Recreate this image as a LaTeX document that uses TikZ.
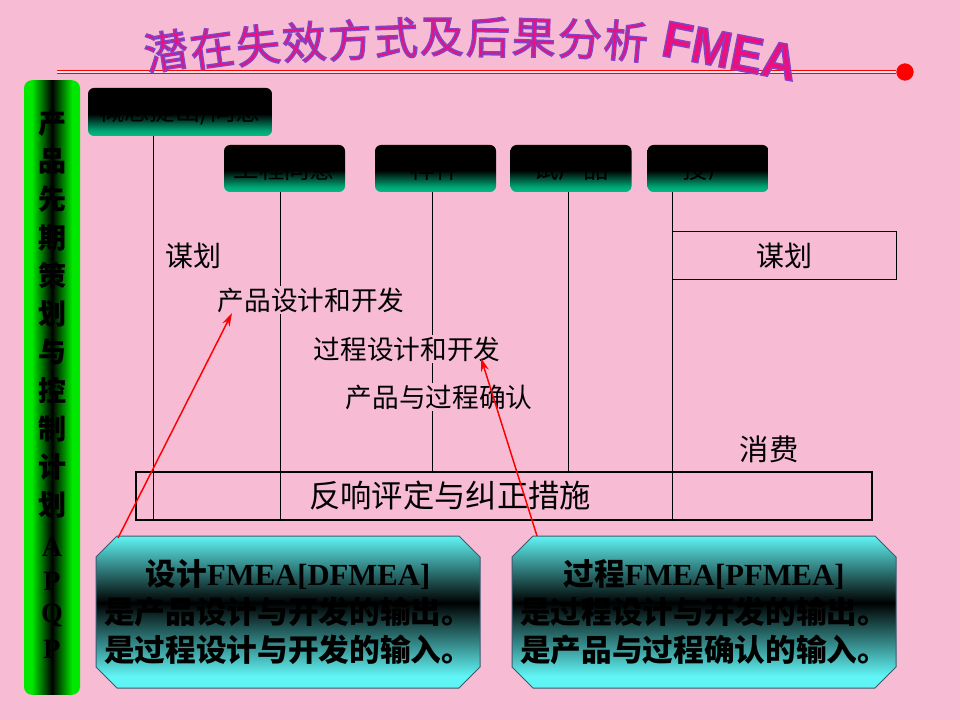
\documentclass[tikz,border=0pt]{standalone}
\usepackage{fontspec}
\usepackage{graphicx}
\setmainfont{Liberation Serif}
\newfontfamily\cjk{Noto Sans CJK SC}
\newfontfamily\arialf{Liberation Sans}
\usetikzlibrary{arrows.meta,calc}
\definecolor{bgpink}{RGB}{247,187,212}
\definecolor{hdgreen}{RGB}{0,190,135}
\definecolor{barg}{RGB}{0,232,0}
\definecolor{cyanf}{RGB}{96,244,244}
\definecolor{octline}{RGB}{60,90,110}
\definecolor{tmag}{RGB}{235,16,125}
\definecolor{tpur}{RGB}{130,70,200}
\pgfdeclareverticalshading{hdrshade}{100bp}{color(0bp)=(hdgreen); color(25bp)=(hdgreen); color(31bp)=(hdgreen!85!black); color(48bp)=(black); color(100bp)=(black)}
\pgfdeclareverticalshading{octshade}{100bp}{color(0bp)=(cyanf); color(29bp)=(cyanf); color(53bp)=(black); color(75bp)=(cyanf); color(100bp)=(cyanf)}
\pgfdeclarehorizontalshading{barshade}{100bp}{color(0bp)=(barg); color(32bp)=(barg); color(50bp)=(black); color(68bp)=(barg); color(100bp)=(barg)}
% filled magenta letters with a purple outline (text render mode 2)
\newcommand\outltxt[1]{\textcolor{tmag}{\special{pdf:literal direct 2 Tr 1 w 0.51 0.27 0.78 RG}#1\special{pdf:literal direct 0 Tr}}}
\tikzset{
  hdr/.style={draw=none, rounded corners=4.5pt, shading=hdrshade,
    inner sep=0pt, minimum width=90.75pt, minimum height=35.25pt,
    font=\cjk\fontsize{19}{19}\selectfont, text=black},
  lbl/.style={font=\cjk\fontsize{20}{20}\selectfont, fill=bgpink, inner sep=1pt},
  biglbl/.style={font=\cjk\fontsize{22}{22}\selectfont, inner sep=1pt},
  tline/.style={line width=0.75pt, black},
  octshape/.style={draw=octline, line width=0.75pt, shading=octshade},
  octtext/.style={align=center, inner sep=0pt, font=\fontsize{23}{28.5}\selectfont},
  redarrow/.style={red, line width=1.1pt, -{Stealth[length=10pt,width=6pt]}},
  titlech/.style={font=\cjk\fontsize{33}{33}\selectfont, inner sep=0pt},
  titlelat/.style={font=\arialf\bfseries\fontsize{36}{36}\selectfont, inner sep=0pt},
  barch/.style={font=\cjk\bfseries\fontsize{21}{21}\selectfont, inner sep=0pt},
  barlat/.style={font=\bfseries\fontsize{21}{21}\selectfont, inner sep=0pt},
}
\begin{document}
\begin{tikzpicture}[x=0.75pt,y=-0.75pt]
\fill[bgpink] (0,0) rectangle (960,720);
\useasboundingbox (0,0) rectangle (960,720);

% title line
\coordinate (ls) at (57,72);
\node[circle, fill=red, minimum size=13pt, inner sep=0pt] (dot) at (905,72) {};
\draw[draw=red, double=bgpink!40!white, double distance=0.9pt, line width=0.9pt] (ls) -- (dot.west);

% title
\foreach \ch/\x/\y/\r [count=\i] in {潜/166/51/9, 在/212/48/8, 失/258/45/6, 效/304/42/5,
  方/350/40/3, 式/396/38/2, 及/442/37/0, 后/488/37/-1, 果/534/38/-2, 分/580/39/-3, 析/626/41/-5}{
  \node[titlech, rotate=\r] (t\i) at (\x,\y) {\outltxt{\ch}};
}
\node[titlelat, rotate=-11] (fmea) at (730,51) {\scalebox{1}[1.07]{\outltxt{FMEA}}};

% left bar
\node[rounded corners=6pt, shading=barshade,
  minimum width=42pt, minimum height=461pt, inner sep=0pt] (bar) at (52,387.5) {};
\foreach \ch [count=\i] in {产,品,先,期,策,划,与,控,制,计,划}{
  \node[barch] (v\i) at (52,{123+38.2*(\i-1)}) {\ch};
}
\foreach \ch [count=\i] in {A,P,Q,P}{
  \node[barlat] (w\i) at (52,{547+34*(\i-1)}) {\ch};
}

% header boxes
\node[hdr, minimum width=138pt, minimum height=36pt] (b1) at (180,112) {概念提出/同意};
\node[hdr] (b2) at (284.5,168.5) {工程同意};
\node[hdr] (b3) at (435.5,168.5) {样件};
\node[hdr] (b4) at (571,168.5) {试产品};
\node[hdr] (b5) at (708,168.5) {投产};

% bottom box and right planning box
\node[draw, line width=1.5pt, minimum width=552pt, minimum height=36pt, inner sep=0pt] (fb) at (504,496) {};
\node[draw, line width=0.75pt, minimum width=168pt, minimum height=36pt, inner sep=0pt,
  font=\cjk\fontsize{21}{21}\selectfont] (plan2) at (784,256) {谋划};

\coordinate (x1) at (153,0);
\coordinate (x2) at (280,0);
\coordinate (x3) at (432,0);
\coordinate (x4) at (568,0);
\coordinate (x5) at (672,0);
\draw[tline] (b1.south -| x1) -- (fb.south -| x1);
\draw[tline] (b2.south -| x2) -- (fb.south -| x2);
\draw[tline] (b3.south -| x3) -- (fb.north -| x3);
\draw[tline] (b4.south -| x4) -- (fb.north -| x4);
\draw[tline] (b5.south -| x5) -- (fb.south -| x5);

% labels
\node[font=\cjk\fontsize{21}{21}\selectfont] (plan1) at (193,256) {谋划};
\node[lbl] (pd) at (311,300) {产品设计和开发};
\node[lbl] (prd) at (407,349) {过程设计和开发};
\node[lbl] (pv) at (439,397) {产品与过程确认};
\node[biglbl] (use) at (769,449) {消费};
\node[font=\cjk\fontsize{23.5}{23.5}\selectfont] (fbt) at (450,496) {反响评定与纠正措施};

% octagons
\path[octshape] (96,557) -- (117,536) -- (459,536) -- (480,557) -- (480,667)
  -- (459,688) -- (117,688) -- (96,667) -- cycle;
\path[octshape] (512,557) -- (533,536) -- (875,536) -- (896,557) -- (896,667)
  -- (875,688) -- (533,688) -- (512,667) -- cycle;
\node[octtext] (dfm) at (288,612) {{\cjk\bfseries 设计}\textbf{FMEA[DFMEA]}\\
  {\cjk\bfseries 是产品设计与开发的输出。}\\{\cjk\bfseries 是过程设计与开发的输入。}};
\node[octtext] (pfm) at (704,612) {{\cjk\bfseries 过程}\textbf{FMEA[PFMEA]}\\
  {\cjk\bfseries 是过程设计与开发的输出。}\\{\cjk\bfseries 是产品与过程确认的输入。}};

% arrows
\coordinate (a1s) at (118,538);
\coordinate (a1e) at (232,313);
\coordinate (a2s) at (537,536);
\coordinate (a2e) at (481,358);
\draw[redarrow] (a1s) -- (a1e);
\draw[redarrow] (a2s) -- (a2e);
\end{tikzpicture}
\end{document}
